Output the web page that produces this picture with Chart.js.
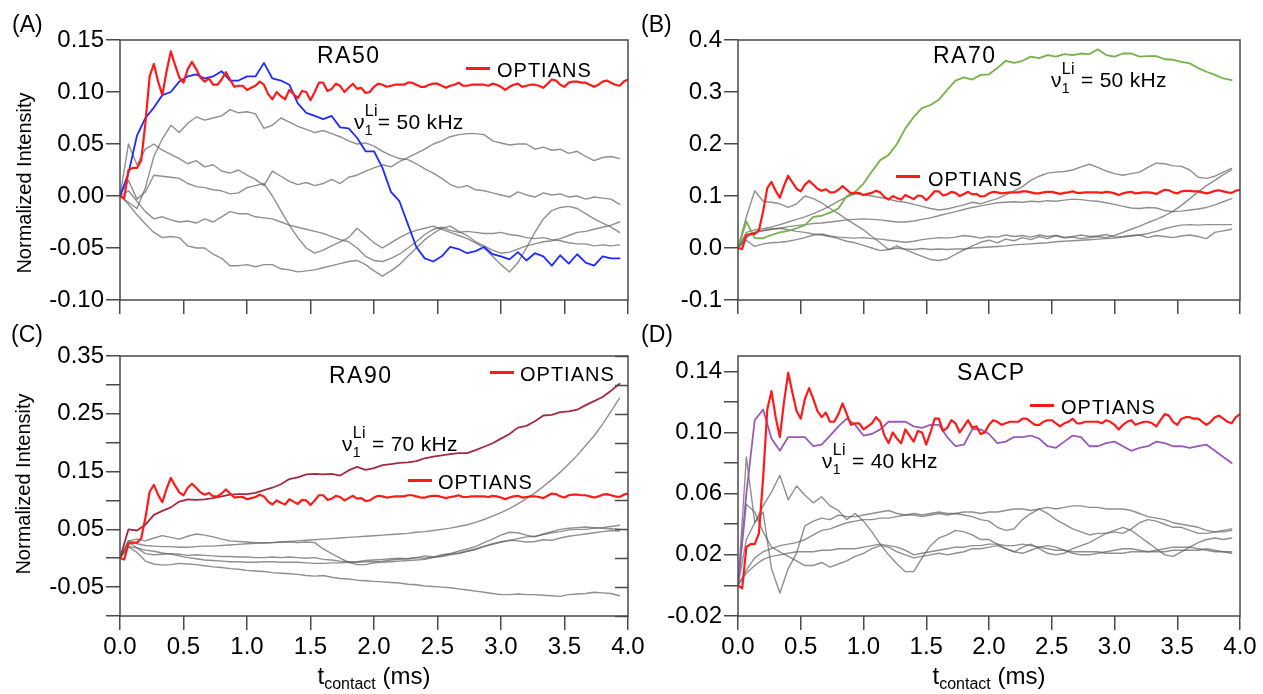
<!DOCTYPE html>
<html>
<head>
<meta charset="utf-8">
<script src="https://cdn.jsdelivr.net/npm/chart.js@4.4.1/dist/chart.umd.min.js"></script>
<style>
  body { margin: 0; background: #fff; }
  #fig { position: relative; width: 1263px; height: 694px; overflow: hidden; font-family: "Liberation Sans", Arial, sans-serif; color: #000; }
  #fig canvas { position: absolute; }
  .t { position: absolute; white-space: nowrap; line-height: 1; }
  .panel { font-size: 23px; }
  .name { font-size: 23px; letter-spacing: 1.5px; }
  .leg { font-size: 20px; letter-spacing: 1px; }
  .swatch { position: absolute; width: 24px; height: 3px; background: #ff1a1a; }
  .nu { font-size: 21px; letter-spacing: 0.3px; }
  .ss { display: inline-block; position: relative; width: 13px; height: 1em; vertical-align: top; }
  .ss .up { position: absolute; left: 0; top: -8px; font-size: 16px; }
  .ss .dn { position: absolute; left: 0; top: 12px; font-size: 14px; }
  .ytitle { font-size: 20px; transform: translate(-50%, -50%) rotate(-90deg); }
  .xtitle { font-size: 24px; transform: translateX(-50%); }
  .xtitle sub { font-size: 16px; vertical-align: -5px; }
</style>
</head>
<body>
<div id="fig">
  <canvas id="chartA" width="660" height="330" style="left:0;top:0"></canvas>
  <canvas id="chartB" width="645" height="330" style="left:618px;top:0"></canvas>
  <canvas id="chartC" width="660" height="374" style="left:0;top:320px"></canvas>
  <canvas id="chartD" width="645" height="374" style="left:618px;top:320px"></canvas>

  <div class="t panel" style="left:12px;top:13px">(A)</div>
  <div class="t panel" style="left:641px;top:13px">(B)</div>
  <div class="t panel" style="left:11px;top:323px">(C)</div>
  <div class="t panel" style="left:641px;top:323px">(D)</div>

  <div class="t ytitle" style="left:24px;top:183px">Normalized Intensity</div>
  <div class="t ytitle" style="left:23px;top:484px">Normalized Intensity</div>
  <div class="t xtitle" style="left:374px;top:664px">t<sub>contact</sub> (ms)</div>
  <div class="t xtitle" style="left:989px;top:664px">t<sub>contact</sub> (ms)</div>

  <div class="t name" style="left:317px;top:44px">RA50</div>
  <div class="swatch" style="left:466px;top:67px"></div>
  <div class="t leg" style="left:497px;top:60px">OPTIANS</div>
  <div class="t nu" style="left:354px;top:111px">ν<span class="ss"><span class="up">Li</span><span class="dn">1</span></span>= 50 kHz</div>

  <div class="t name" style="left:933px;top:44px">RA70</div>
  <div class="t nu" style="left:1051px;top:69px">ν<span class="ss"><span class="up">Li</span><span class="dn">1</span></span> = 50 kHz</div>
  <div class="swatch" style="left:896px;top:175px"></div>
  <div class="t leg" style="left:928px;top:169px">OPTIANS</div>

  <div class="t name" style="left:329px;top:364px">RA90</div>
  <div class="swatch" style="left:490px;top:371px"></div>
  <div class="t leg" style="left:520px;top:364px">OPTIANS</div>
  <div class="t nu" style="left:342px;top:433px">ν<span class="ss"><span class="up">Li</span><span class="dn">1</span></span> = 70 kHz</div>
  <div class="swatch" style="left:408px;top:479px"></div>
  <div class="t leg" style="left:438px;top:472px">OPTIANS</div>

  <div class="t name" style="left:957px;top:361px">SACP</div>
  <div class="swatch" style="left:1030px;top:404px"></div>
  <div class="t leg" style="left:1061px;top:397px">OPTIANS</div>
  <div class="t nu" style="left:822px;top:450px">ν<span class="ss"><span class="up">Li</span><span class="dn">1</span></span> = 40 kHz</div>
</div>

<script>
// sampling grids (ms): OPTIANS every 1/30 ms up to 4.0, other curves every 1/15 ms
const tRed = Array.from({ length: 121 }, (_, i) => i / 30)
const tScan = Array.from({ length: 60 }, (_, i) => i / 15)

const xTicks = [0, 0.5, 1, 1.5, 2, 2.5, 3, 3.5, 4]
const xLabels = ['0.0', '0.5', '1.0', '1.5', '2.0', '2.5', '3.0', '3.5', '4.0']
const xNoLabels = ['', '', '', '', '', '', '', '', '']

const yTicksA = [-0.1, -0.05, 0, 0.05, 0.1, 0.15]
const yLabelsA = ['-0.10', '-0.05', '0.00', '0.05', '0.10', '0.15']
const yTicksB = [-0.1, 0, 0.1, 0.2, 0.3, 0.4]
const yLabelsB = ['-0.1', '0.0', '0.1', '0.2', '0.3', '0.4']
const yTicksC = [-0.1, -0.05, 0, 0.05, 0.1, 0.15, 0.2, 0.25, 0.3, 0.35]
const yLabelsC = ['', '-0.05', '', '0.05', '', '0.15', '', '0.25', '', '0.35']
const yTicksD = [-0.02, 0, 0.02, 0.04, 0.06, 0.08, 0.1, 0.12, 0.14]
const yLabelsD = ['-0.02', '', '0.02', '', '0.06', '', '0.10', '', '0.14']

// OPTIANS reference curve (same in all four panels)
const optians = [
  0, -0.002, 0.025, 0.027, 0.027, 0.034, 0.07, 0.115, 0.127, 0.11,
  0.097, 0.12, 0.139, 0.126, 0.114, 0.109, 0.122, 0.129, 0.122, 0.114,
  0.11, 0.113, 0.107, 0.107, 0.112, 0.119, 0.112, 0.105, 0.106, 0.106,
  0.102, 0.104, 0.106, 0.11, 0.107, 0.098, 0.093, 0.1, 0.096, 0.093,
  0.102, 0.098, 0.094, 0.101, 0.1, 0.092, 0.1, 0.109, 0.109, 0.101,
  0.103, 0.108, 0.106, 0.1, 0.104, 0.108, 0.103, 0.104, 0.099, 0.1,
  0.105, 0.108, 0.107, 0.105, 0.106, 0.107, 0.107, 0.107, 0.109, 0.109,
  0.107, 0.105, 0.105, 0.107, 0.108, 0.108, 0.106, 0.104, 0.106, 0.107,
  0.109, 0.106, 0.106, 0.107, 0.107, 0.107, 0.107, 0.106, 0.108, 0.107,
  0.105, 0.102, 0.105, 0.107, 0.108, 0.105, 0.106, 0.107, 0.107, 0.106,
  0.104, 0.108, 0.112, 0.111, 0.107, 0.105, 0.109, 0.11, 0.11, 0.109,
  0.109, 0.107, 0.105, 0.107, 0.11, 0.111, 0.109, 0.107, 0.106, 0.11,
  0.112
]

// (A) RA50
const ra50Blue = [
  0, 0.022, 0.058, 0.075, 0.085, 0.097, 0.1, 0.11, 0.115, 0.117,
  0.113, 0.115, 0.12, 0.111, 0.111, 0.115, 0.115, 0.128, 0.113, 0.111,
  0.107, 0.089, 0.08, 0.077, 0.074, 0.077, 0.066, 0.065, 0.056, 0.043,
  0.043, 0.027, 0.004, -0.005, -0.027, -0.049, -0.06, -0.063, -0.058, -0.049,
  -0.051, -0.055, -0.053, -0.049, -0.056, -0.058, -0.061, -0.054, -0.062, -0.055,
  -0.058, -0.067, -0.057, -0.065, -0.056, -0.064, -0.067, -0.058, -0.06, -0.06
]
const ra50G1 = [
  0, -0.006, -0.012, 0.008, 0.038, 0.055, 0.068, 0.061, 0.07, 0.076,
  0.073, 0.075, 0.077, 0.083, 0.08, 0.081, 0.079, 0.065, 0.068, 0.075,
  0.071, 0.067, 0.064, 0.061, 0.063, 0.06, 0.057, 0.053, 0.05, 0.051,
  0.048, 0.043, 0.039, 0.036, 0.035, 0.031, 0.026, 0.022, 0.017, 0.011,
  0.008, 0.01, 0.006, 0.005, 0.003, 0.001, -0.001, 0.004, 0.001, -0.001,
  0.003, 0.001, 0.002, -0.001, 0, -0.003, -0.001, -0.002, -0.003, -0.008
]
const ra50G2 = [
  0, 0.05, 0.03, 0.045, 0.05, 0.044, 0.04, 0.036, 0.031, 0.034,
  0.028, 0.03, 0.024, 0.022, 0.025, 0.02, 0.016, 0.01, 0.024, 0.019,
  0.014, 0.011, 0.013, 0.01, 0.012, 0.016, 0.012, 0.018, 0.02, 0.024,
  0.027, 0.03, 0.028, 0.033, 0.037, 0.041, 0.045, 0.05, 0.053, 0.057,
  0.059, 0.06, 0.06, 0.059, 0.053, 0.051, 0.049, 0.05, 0.05, 0.045,
  0.047, 0.044, 0.045, 0.041, 0.043, 0.038, 0.034, 0.037, 0.038, 0.036
]
const ra50G3 = [
  0, 0.015, -0.003, 0.004, 0.02, 0.019, 0.018, 0.017, 0.012, 0.009,
  0.008, 0.006, 0.005, 0.002, 0.003, 0.008, 0.01, 0.012, 0, -0.014,
  -0.028, -0.04, -0.05, -0.055, -0.052, -0.048, -0.044, -0.04, -0.031, -0.038,
  -0.045, -0.05, -0.045, -0.04, -0.036, -0.033, -0.031, -0.029, -0.032, -0.035,
  -0.038, -0.041, -0.045, -0.05, -0.058, -0.066, -0.073, -0.064, -0.05, -0.035,
  -0.022, -0.014, -0.011, -0.01, -0.012, -0.017, -0.022, -0.026, -0.03, -0.035
]
const ra50G4 = [
  0, 0.005, -0.005, -0.015, -0.022, -0.02, -0.023, -0.025, -0.024, -0.026,
  -0.022, -0.025, -0.02, -0.015, -0.017, -0.017, -0.02, -0.021, -0.022, -0.025,
  -0.028, -0.03, -0.032, -0.034, -0.036, -0.039, -0.042, -0.044, -0.05, -0.058,
  -0.062, -0.063, -0.06, -0.056, -0.05, -0.044, -0.037, -0.032, -0.03, -0.033,
  -0.035, -0.034, -0.035, -0.036, -0.036, -0.035, -0.037, -0.038, -0.04, -0.041,
  -0.04, -0.042, -0.043, -0.045, -0.046, -0.046, -0.048, -0.047, -0.048, -0.047
]
const ra50G5 = [
  0, -0.008, -0.018, -0.027, -0.035, -0.04, -0.039, -0.04, -0.048, -0.05,
  -0.05, -0.056, -0.06, -0.067, -0.067, -0.066, -0.068, -0.066, -0.066, -0.07,
  -0.071, -0.073, -0.072, -0.071, -0.069, -0.067, -0.065, -0.063, -0.062, -0.066,
  -0.072, -0.077, -0.072, -0.066, -0.058, -0.05, -0.042, -0.036, -0.031, -0.029,
  -0.034, -0.038, -0.044, -0.048, -0.052, -0.055, -0.054, -0.051, -0.048, -0.046,
  -0.044, -0.043, -0.041, -0.038, -0.035, -0.034, -0.032, -0.03, -0.028, -0.025
]

// (B) RA70
const ra70Green = [
  0, 0.051, 0.019, 0.019, 0.025, 0.03, 0.033, 0.038, 0.044, 0.06,
  0.062, 0.068, 0.076, 0.1, 0.108, 0.124, 0.147, 0.169, 0.179, 0.2,
  0.23, 0.252, 0.269, 0.275, 0.285, 0.304, 0.322, 0.328, 0.324, 0.333,
  0.334, 0.346, 0.36, 0.356, 0.36, 0.368, 0.365, 0.371, 0.368, 0.373,
  0.371, 0.374, 0.373, 0.382, 0.371, 0.368, 0.374, 0.374, 0.368, 0.369,
  0.369, 0.363, 0.362, 0.358, 0.355, 0.346, 0.339, 0.333, 0.326, 0.323
]
const ra70G1 = [
  0, 0.06, 0.11, 0.09, 0.088, 0.085, 0.078, 0.085, 0.1, 0.095,
  0.087, 0.076, 0.066, 0.055, 0.045, 0.035, 0.022, 0.01, -0.003, 0.004,
  -0.003, -0.01, -0.016, -0.022, -0.024, -0.021, -0.012, -0.004, 0.004, 0.011,
  0.015, 0.01, 0.017, 0.014, 0.02, 0.016, 0.022, 0.018, 0.024, 0.019,
  0.021, 0.018, 0.02, 0.022, 0.02, 0.024, 0.03, 0.036, 0.042, 0.049,
  0.055, 0.062, 0.071, 0.082, 0.095, 0.108, 0.12, 0.13, 0.141, 0.15
]
const ra70G2 = [
  0, 0.03, 0.035, 0.037, 0.04, 0.045, 0.05, 0.055, 0.06, 0.066,
  0.073, 0.081, 0.09, 0.098, 0.104, 0.102, 0.1, 0.097, 0.094, 0.09,
  0.088, 0.084, 0.08, 0.076, 0.073, 0.075, 0.079, 0.083, 0.088, 0.085,
  0.09, 0.095, 0.102, 0.11, 0.118, 0.13, 0.138, 0.144, 0.146, 0.147,
  0.15, 0.156, 0.161, 0.155, 0.148, 0.143, 0.14, 0.143, 0.146, 0.155,
  0.163, 0.162, 0.158, 0.157, 0.15, 0.136, 0.134, 0.138, 0.146, 0.153
]
const ra70G3 = [
  0, 0.025, 0.03, 0.033, 0.036, 0.038, 0.041, 0.043, 0.045, 0.047,
  0.048, 0.05, 0.052, 0.054, 0.055, 0.056, 0.055, 0.054, 0.052, 0.05,
  0.05, 0.052, 0.055, 0.058, 0.062, 0.066, 0.07, 0.074, 0.078, 0.081,
  0.084, 0.087, 0.088, 0.089, 0.088, 0.09, 0.089, 0.091, 0.09, 0.092,
  0.094, 0.093, 0.091, 0.09, 0.087, 0.084, 0.08, 0.077, 0.076, 0.078,
  0.077, 0.072, 0.07, 0.071, 0.073, 0.075, 0.078, 0.083, 0.089, 0.095
]
const ra70G4 = [
  0, 0.02, 0.03, 0.034, 0.036, 0.038, 0.035, 0.032, 0.03, 0.027,
  0.025, 0.022, 0.018, 0.013, 0.01, 0.005, 0, -0.005, -0.003, 0,
  -0.002, -0.003, -0.001, -0.003, -0.002, -0.003, -0.002, -0.002, 0, 0.001,
  0.002, 0.003, 0.004, 0.006, 0.007, 0.008, 0.009, 0.01, 0.012, 0.013,
  0.014, 0.015, 0.016, 0.017, 0.018, 0.019, 0.021, 0.023, 0.025, 0.028,
  0.032, 0.037, 0.041, 0.044, 0.045, 0.044, 0.045, 0.045, 0.045, 0.045
]
const ra70G5 = [
  0, 0.015, 0.003, 0.008, 0.01, 0.011, 0.013, 0.016, 0.02, 0.025,
  0.027, 0.023, 0.021, 0.02, 0.019, 0.02, 0.018, 0.017, 0.015, 0.013,
  0.011, 0.013, 0.016, 0.018, 0.02, 0.019, 0.021, 0.024, 0.022, 0.019,
  0.022, 0.021, 0.025, 0.022, 0.024, 0.021, 0.025, 0.022, 0.024, 0.021,
  0.022, 0.025, 0.022, 0.023, 0.026, 0.021, 0.022, 0.024, 0.025, 0.02,
  0.024, 0.022, 0.02, 0.023, 0.025, 0.022, 0.018, 0.03, 0.033, 0.036
]

// (C) RA90
const ra90Maroon = [
  0, 0.05, 0.048, 0.058, 0.075, 0.082, 0.088, 0.098, 0.102, 0.101,
  0.102, 0.104, 0.107, 0.11, 0.111, 0.111, 0.113, 0.118, 0.122, 0.128,
  0.137, 0.14, 0.145, 0.146, 0.145, 0.146, 0.143, 0.152, 0.158, 0.153,
  0.156, 0.161, 0.163, 0.165, 0.166, 0.168, 0.173, 0.176, 0.178, 0.18,
  0.182, 0.182, 0.187, 0.193, 0.199, 0.207, 0.215, 0.226, 0.229, 0.237,
  0.247, 0.248, 0.253, 0.254, 0.257, 0.265, 0.272, 0.279, 0.29, 0.302
]
const ra90G1 = [
  0, 0.03, 0.025, 0.022, 0.021, 0.02, 0.02, 0.019, 0.019, 0.02,
  0.021, 0.021, 0.022, 0.023, 0.024, 0.025, 0.026, 0.027, 0.027, 0.028,
  0.029, 0.03, 0.031, 0.032, 0.033, 0.034, 0.035, 0.036, 0.037, 0.038,
  0.039, 0.04, 0.041, 0.042, 0.043, 0.045, 0.046, 0.048, 0.05, 0.052,
  0.055, 0.058, 0.062, 0.067, 0.073, 0.079, 0.086, 0.094, 0.103, 0.113,
  0.124, 0.136, 0.149, 0.163, 0.178, 0.195, 0.212, 0.232, 0.254, 0.277
]
const ra90G2 = [
  0, 0.02, 0.01, -0.005, -0.01, -0.012, -0.011, -0.009, -0.01, -0.011,
  -0.013, -0.015, -0.016, -0.018, -0.019, -0.021, -0.022, -0.023, -0.025, -0.026,
  -0.027, -0.028, -0.03, -0.031, -0.03, -0.033, -0.035, -0.036, -0.038, -0.039,
  -0.04, -0.041, -0.042, -0.043, -0.045, -0.046, -0.048, -0.049, -0.05, -0.051,
  -0.053, -0.055, -0.057, -0.059, -0.061, -0.063, -0.063, -0.062, -0.063, -0.063,
  -0.064, -0.065, -0.066, -0.063, -0.062, -0.061, -0.059, -0.06, -0.061, -0.065
]
const ra90G3 = [
  0, 0.03, 0.033, 0.03, 0.035, 0.039, 0.036, 0.033, 0.038, 0.042,
  0.04, 0.037, 0.033, 0.03, 0.029, 0.028, 0.027, 0.026, 0.027, 0.028,
  0.028, 0.027, 0.028, 0.027, 0.016, 0.008, 0, -0.007, -0.011, -0.011,
  -0.008, -0.007, -0.006, -0.005, -0.004, -0.003, -0.002, 0.001, 0.004, 0.008,
  0.012, 0.016, 0.02, 0.027, 0.033, 0.04, 0.045, 0.044, 0.04, 0.037,
  0.042, 0.046, 0.05, 0.052, 0.053, 0.054, 0.053, 0.052, 0.051, 0.05
]
const ra90G4 = [
  0, 0.02, 0.018, 0.008, 0.006, 0.007, 0.008, 0.007, 0.005, 0.006,
  0.005, 0.004, 0.003, 0.003, 0.002, 0.002, 0.001, 0.001, 0.002, 0.001,
  0.002, 0.001, 0, 0.001, -0.002, -0.003, -0.005, -0.006, -0.007, -0.006,
  -0.006, -0.005, -0.003, -0.002, -0.001, 0.001, 0.004, 0.002, 0.006, 0.008,
  0.009, 0.012, 0.015, 0.02, 0.024, 0.028, 0.031, 0.034, 0.037, 0.038,
  0.041, 0.044, 0.046, 0.049, 0.05, 0.05, 0.052, 0.053, 0.055, 0.057
]
const ra90G5 = [
  0, 0.028, 0.018, 0.014, 0.012, 0.009, 0.007, 0.004, 0.001, -0.001,
  -0.003, -0.004, -0.005, -0.006, -0.006, -0.007, -0.007, -0.006, -0.006, -0.007,
  -0.007, -0.007, -0.008, -0.009, -0.009, -0.008, -0.008, -0.007, -0.006, -0.004,
  -0.003, -0.002, -0.001, 0, -0.001, 0.001, 0, 0.002, 0.003, 0.006,
  0.008, 0.012, 0.016, 0.021, 0.025, 0.028, 0.031, 0.03, 0.028, 0.029,
  0.032, 0.031, 0.035, 0.038, 0.04, 0.042, 0.044, 0.046, 0.048, 0.047
]

// (D) SACP
const sacpPurple = [
  0, 0.06, 0.108, 0.115, 0.096, 0.088, 0.097, 0.097, 0.097, 0.091,
  0.092, 0.098, 0.104, 0.109, 0.105, 0.098, 0.099, 0.102, 0.107, 0.107,
  0.107, 0.104, 0.103, 0.105, 0.105, 0.097, 0.091, 0.092, 0.102, 0.102,
  0.099, 0.093, 0.094, 0.097, 0.097, 0.098, 0.096, 0.091, 0.09, 0.094,
  0.098, 0.097, 0.091, 0.091, 0.093, 0.094, 0.091, 0.088, 0.09, 0.091,
  0.094, 0.093, 0.091, 0.091, 0.09, 0.091, 0.092, 0.088, 0.084, 0.08
]
const sacpG1 = [
  0, 0.084, 0.041, 0.048, 0.011, -0.005, 0.011, 0.021, 0.039, 0.042,
  0.044, 0.043, 0.046, 0.045, 0.045, 0.046, 0.047, 0.048, 0.049, 0.047,
  0.046, 0.047, 0.046, 0.047, 0.048, 0.047, 0.047, 0.048, 0.048, 0.047,
  0.048, 0.048, 0.049, 0.05, 0.05, 0.049, 0.05, 0.051, 0.05, 0.051,
  0.052, 0.052, 0.051, 0.051, 0.05, 0.05, 0.05, 0.049, 0.047, 0.045,
  0.044, 0.043, 0.041, 0.04, 0.039, 0.038, 0.036, 0.035, 0.035, 0.036
]
const sacpG2 = [
  0, 0.03, 0.041, 0.052, 0.061, 0.072, 0.056, 0.065, 0.059, 0.054,
  0.058, 0.052, 0.049, 0.043, 0.047, 0.042, 0.035, 0.027, 0.02, 0.014,
  0.009, 0.009, 0.018, 0.026, 0.031, 0.033, 0.036, 0.035, 0.033, 0.03,
  0.03, 0.027, 0.024, 0.022, 0.025, 0.027, 0.024, 0.021, 0.02, 0.021,
  0.024, 0.026, 0.028, 0.031, 0.034, 0.036, 0.038, 0.036, 0.032, 0.028,
  0.024, 0.02, 0.019, 0.022, 0.025, 0.028, 0.03, 0.031, 0.03, 0.031
]
const sacpG3 = [
  0, 0.01, 0.018, 0.022, 0.024, 0.026, 0.027, 0.028, 0.03, 0.033,
  0.036, 0.037, 0.039, 0.041, 0.042, 0.043, 0.043, 0.044, 0.044, 0.045,
  0.046, 0.046, 0.045, 0.046, 0.047, 0.046, 0.047, 0.046, 0.045, 0.043,
  0.042, 0.038, 0.036, 0.037, 0.043, 0.047, 0.05, 0.047, 0.043, 0.04,
  0.037, 0.035, 0.033, 0.034, 0.034, 0.035, 0.034, 0.037, 0.041, 0.043,
  0.042, 0.04, 0.038, 0.038, 0.036, 0.034, 0.034, 0.035, 0.036, 0.037
]
const sacpG4 = [
  0, 0.053, 0.048, 0.035, 0.025, 0.022, 0.019, 0.016, 0.013, 0.013,
  0.015, 0.012, 0.014, 0.016, 0.019, 0.021, 0.024, 0.026, 0.025, 0.022,
  0.02, 0.018, 0.019, 0.02, 0.021, 0.02, 0.021, 0.022, 0.024, 0.024,
  0.025, 0.026, 0.024, 0.022, 0.021, 0.023, 0.025, 0.026, 0.025, 0.023,
  0.021, 0.02, 0.02, 0.021, 0.022, 0.023, 0.024, 0.024, 0.023, 0.022,
  0.023, 0.024, 0.025, 0.025, 0.025, 0.024, 0.023, 0.022, 0.022, 0.022
]
const sacpG5 = [
  0, 0.008, 0.013, 0.017, 0.019, 0.02, 0.021, 0.022, 0.022, 0.022,
  0.023, 0.023, 0.024, 0.024, 0.024, 0.025, 0.026, 0.027, 0.026, 0.025,
  0.023, 0.02, 0.021, 0.022, 0.023, 0.024, 0.025, 0.025, 0.026, 0.026,
  0.027, 0.027, 0.026, 0.026, 0.027, 0.026, 0.025, 0.024, 0.023, 0.023,
  0.022, 0.022, 0.022, 0.022, 0.021, 0.021, 0.021, 0.022, 0.022, 0.022,
  0.022, 0.022, 0.023, 0.023, 0.023, 0.023, 0.024, 0.023, 0.022, 0.021
]

const FONT = '"Liberation Sans", Arial, sans-serif'
const AXIS = '#4a4a4a'
const GRAY = 'rgba(95,95,95,0.7)'

function pairs(ts, ys) {
  return ys.map((y, i) => ({ x: ts[i], y: y }))
}
function redSet() {
  return { data: pairs(tRed, optians), borderColor: '#ff1a1a', borderWidth: 2.2 }
}
function mainSet(vals, color) {
  return { data: pairs(tScan, vals), borderColor: color, borderWidth: 1.8 }
}
function graySet(vals) {
  return { data: pairs(tScan, vals), borderColor: GRAY, borderWidth: 1.4 }
}

// box round the plot area, plus inward ticks on the right where asked
const framePlugin = {
  id: 'frame',
  afterDatasetsDraw(chart, args, opts) {
    const { ctx, chartArea: a, scales } = chart
    ctx.save()
    ctx.strokeStyle = AXIS
    ctx.lineWidth = 1.5
    ctx.strokeRect(a.left, a.top, a.right - a.left, a.bottom - a.top)
    if (opts.innerRight) {
      scales.y.ticks.forEach(t => {
        const y = Math.round(scales.y.getPixelForValue(t.value)) + 0.5
        ctx.beginPath()
        ctx.moveTo(a.right - 13, y)
        ctx.lineTo(a.right, y)
        ctx.stroke()
      })
    }
    ctx.restore()
  }
}

function makePanel(id, p) {
  const tickFont = { family: FONT, size: 24 }
  const grid = { drawOnChartArea: false, drawTicks: true, tickLength: 14, color: AXIS, lineWidth: 1.5 }
  return new Chart(document.getElementById(id), {
    type: 'line',
    data: { datasets: p.datasets },
    options: {
      responsive: false,
      animation: false,
      devicePixelRatio: 1,
      layout: { padding: p.padding },
      elements: {
        point: { radius: 0 },
        line: { tension: 0, borderJoinStyle: 'round', borderCapStyle: 'round' }
      },
      plugins: {
        legend: { display: false },
        tooltip: { enabled: false },
        frame: { innerRight: !!p.innerRight }
      },
      scales: {
        x: {
          type: 'linear', min: 0, max: 4,
          afterBuildTicks: s => { s.ticks = xTicks.map(v => ({ value: v })) },
          afterFit: s => { s.height = p.xHeight },
          ticks: { autoSkip: false, maxRotation: 0, padding: 3, color: '#000', font: tickFont,
                   callback: (v, i) => p.xLabels[i] },
          grid: grid,
          border: { display: false }
        },
        y: {
          type: 'linear', min: p.yMin, max: p.yMax,
          afterBuildTicks: s => { s.ticks = p.yTicks.map(v => ({ value: v })) },
          afterFit: s => { s.width = 120 },
          ticks: { autoSkip: false, padding: 2, color: '#000', font: tickFont,
                   callback: (v, i) => p.yLabels[i] },
          grid: grid,
          border: { display: false }
        }
      }
    },
    plugins: [framePlugin]
  })
}

makePanel('chartA', {
  padding: { left: 0, top: 40, right: 32, bottom: 0 }, xHeight: 30,
  yMin: -0.1, yMax: 0.15, yTicks: yTicksA, yLabels: yLabelsA, xLabels: xNoLabels,
  datasets: [redSet(), mainSet(ra50Blue, '#1f2bff'),
    graySet(ra50G1), graySet(ra50G2), graySet(ra50G3), graySet(ra50G4), graySet(ra50G5)]
})

makePanel('chartB', {
  padding: { left: 0, top: 40, right: 23, bottom: 0 }, xHeight: 30,
  yMin: -0.1, yMax: 0.4, yTicks: yTicksB, yLabels: yLabelsB, xLabels: xNoLabels,
  datasets: [redSet(), mainSet(ra70Green, '#74b347'),
    graySet(ra70G1), graySet(ra70G2), graySet(ra70G3), graySet(ra70G4), graySet(ra70G5)]
})

makePanel('chartC', {
  padding: { left: 0, top: 36, right: 32, bottom: 0 }, xHeight: 78, innerRight: true,
  yMin: -0.1, yMax: 0.35, yTicks: yTicksC, yLabels: yLabelsC, xLabels: xLabels,
  datasets: [redSet(), mainSet(ra90Maroon, '#a32a42'),
    graySet(ra90G1), graySet(ra90G2), graySet(ra90G3), graySet(ra90G4), graySet(ra90G5)]
})

makePanel('chartD', {
  padding: { left: 0, top: 36, right: 23, bottom: 0 }, xHeight: 78,
  yMin: -0.02, yMax: 0.15, yTicks: yTicksD, yLabels: yLabelsD, xLabels: xLabels,
  datasets: [redSet(), mainSet(sacpPurple, '#9a58b8'),
    graySet(sacpG1), graySet(sacpG2), graySet(sacpG3), graySet(sacpG4), graySet(sacpG5)]
})
</script>
</body>
</html>
